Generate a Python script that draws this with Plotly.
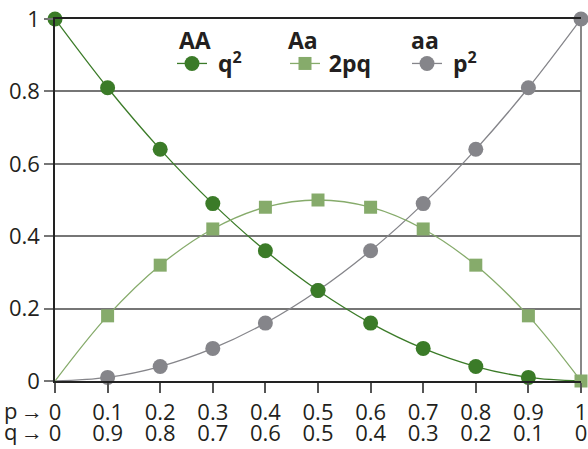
import plotly.graph_objects as go

p_vals = [0, 0.1, 0.2, 0.3, 0.4, 0.5, 0.6, 0.7, 0.8, 0.9, 1]
p_labels = ["0", "0.1", "0.2", "0.3", "0.4", "0.5", "0.6", "0.7", "0.8", "0.9", "1"]
q_labels = ["0", "0.9", "0.8", "0.7", "0.6", "0.5", "0.4", "0.3", "0.2", "0.1", "0"]
q2 = [1, 0.81, 0.64, 0.49, 0.36, 0.25, 0.16, 0.09, 0.04, 0.01, 0]
two_pq = [0, 0.18, 0.32, 0.42, 0.48, 0.5, 0.48, 0.42, 0.32, 0.18, 0]
p2 = [0, 0.01, 0.04, 0.09, 0.16, 0.25, 0.36, 0.49, 0.64, 0.81, 1]

# marker visibility per point (points shown as markers in the reference)
q2_marked = [True] * 10 + [False]
pq_marked = [False] + [True] * 10
p2_marked = [False] + [True] * 10

FONT = "Open Sans"
TXT = "#231f20"
C_Q2 = "#3b7b28"
C_PQ = "#86ab6b"
C_P2 = "#85858a"

series = [
    # legend label, values, marked, color, symbol, size, legend id
    ("\u00a0<b>p<sup>2</sup></b>", p2, p2_marked, C_P2, "circle", 15, "legend3"),
    ("\u00a0<b>q<sup>2</sup></b>", q2, q2_marked, C_Q2, "circle", 15, "legend"),
    ("\u2009<b>2pq</b>", two_pq, pq_marked, C_PQ, "square", 13, "legend2"),
]

fig = go.Figure()
for label, vals, marked, color, sym, size, leg in series:
    fig.add_trace(go.Scatter(
        x=p_vals, y=vals, mode="lines", line=dict(color=color, width=1.3, shape="spline"),
        showlegend=False, hoverinfo="skip", cliponaxis=False))
    fig.add_trace(go.Scatter(
        x=[x for x, m in zip(p_vals, marked) if m],
        y=[y for y, m in zip(vals, marked) if m],
        mode="markers", marker=dict(color=color, symbol=sym, size=size),
        showlegend=False, cliponaxis=False))
    fig.add_trace(go.Scatter(
        x=[None], y=[None], mode="lines+markers", name=label,
        line=dict(color=color, width=1.3),
        marker=dict(color=color, symbol=sym, size=size),
        legend=leg, showlegend=True))

TOP, BOT, LEFT, RIGHT = 19, 381, 55, 581

def px_x(px):
    return (px - LEFT) / (RIGHT - LEFT)

def px_y(py):
    return (BOT - py) / (BOT - TOP)

def leg(xpx):
    return dict(
        x=px_x(xpx), y=px_y(42), xanchor="left", yanchor="top",
        orientation="h", bgcolor="rgba(0,0,0,0)", borderwidth=0,
        font=dict(family=FONT, size=23, color=TXT),
        itemwidth=30, tracegroupgap=0,
    )

tick_font = dict(family=FONT, size=22, color=TXT)
title_font = dict(family=FONT, size=23, color=TXT)

annotations = [
    dict(text="p\u2009\u2192", xref="paper", yref="paper", x=0, y=0, xanchor="right",
         yanchor="middle", xshift=-10, yshift=-(410 - BOT), showarrow=False, font=tick_font),
    dict(text="q\u2009\u2192", xref="paper", yref="paper", x=0, y=0, xanchor="right",
         yanchor="middle", xshift=-10, yshift=-(431 - BOT), showarrow=False, font=tick_font),
]
for txt, xpx in [("<b>AA</b>", 177), ("<b>Aa</b>", 286), ("<b>aa</b>", 409)]:
    annotations.append(dict(text=txt, xref="paper", yref="paper", x=px_x(xpx), y=px_y(40),
                            xanchor="left", yanchor="middle", showarrow=False, font=title_font))

fig.update_layout(
    width=588, height=449,
    margin=dict(l=LEFT, r=588 - RIGHT, t=TOP, b=449 - BOT),
    paper_bgcolor="white", plot_bgcolor="white",
    font=dict(family=FONT, size=22, color=TXT),
    legend=leg(172),
    legend2=leg(285),
    legend3=leg(407),
    xaxis=dict(
        range=[0, 1], tickvals=p_vals, ticktext=p_labels, showgrid=False, zeroline=False,
        ticks="outside", ticklen=10, tickcolor="#555", tickwidth=1.5,
        showline=True, linecolor="#222", linewidth=1.5, mirror=True,
        ticklabelstandoff=1, tickfont=tick_font, automargin=False,
    ),
    xaxis2=dict(
        range=[0, 1], overlaying="x", anchor="y", side="bottom",
        tickvals=p_vals, ticktext=q_labels, showgrid=False, zeroline=False,
        ticks="outside", ticklen=10, tickcolor="rgba(0,0,0,0)", showline=False,
        ticklabelstandoff=23, tickfont=tick_font, automargin=False,
    ),
    yaxis=dict(
        range=[0, 1], dtick=0.2, showgrid=True, gridcolor="#767676", gridwidth=1.5,
        zeroline=False, ticks="outside", ticklen=9, tickcolor="#767676", tickwidth=1.5,
        showline=True, linecolor="#222", linewidth=1.5,
        tickfont=tick_font, automargin=False,
    ),
    shapes=[dict(type="line", xref="paper", yref="paper", x0=1, x1=1, y0=0, y1=1,
                 line=dict(color="#888", width=2), layer="below")],
    annotations=annotations,
)
# dummy trace to activate xaxis2 tick labels
fig.add_trace(go.Scatter(x=[None], y=[None], xaxis="x2", showlegend=False, hoverinfo="skip"))

fig.write_html("out.html", config={"displayModeBar": False},
               post_script="document.body.style.margin='0';document.body.style.overflow='hidden';")
